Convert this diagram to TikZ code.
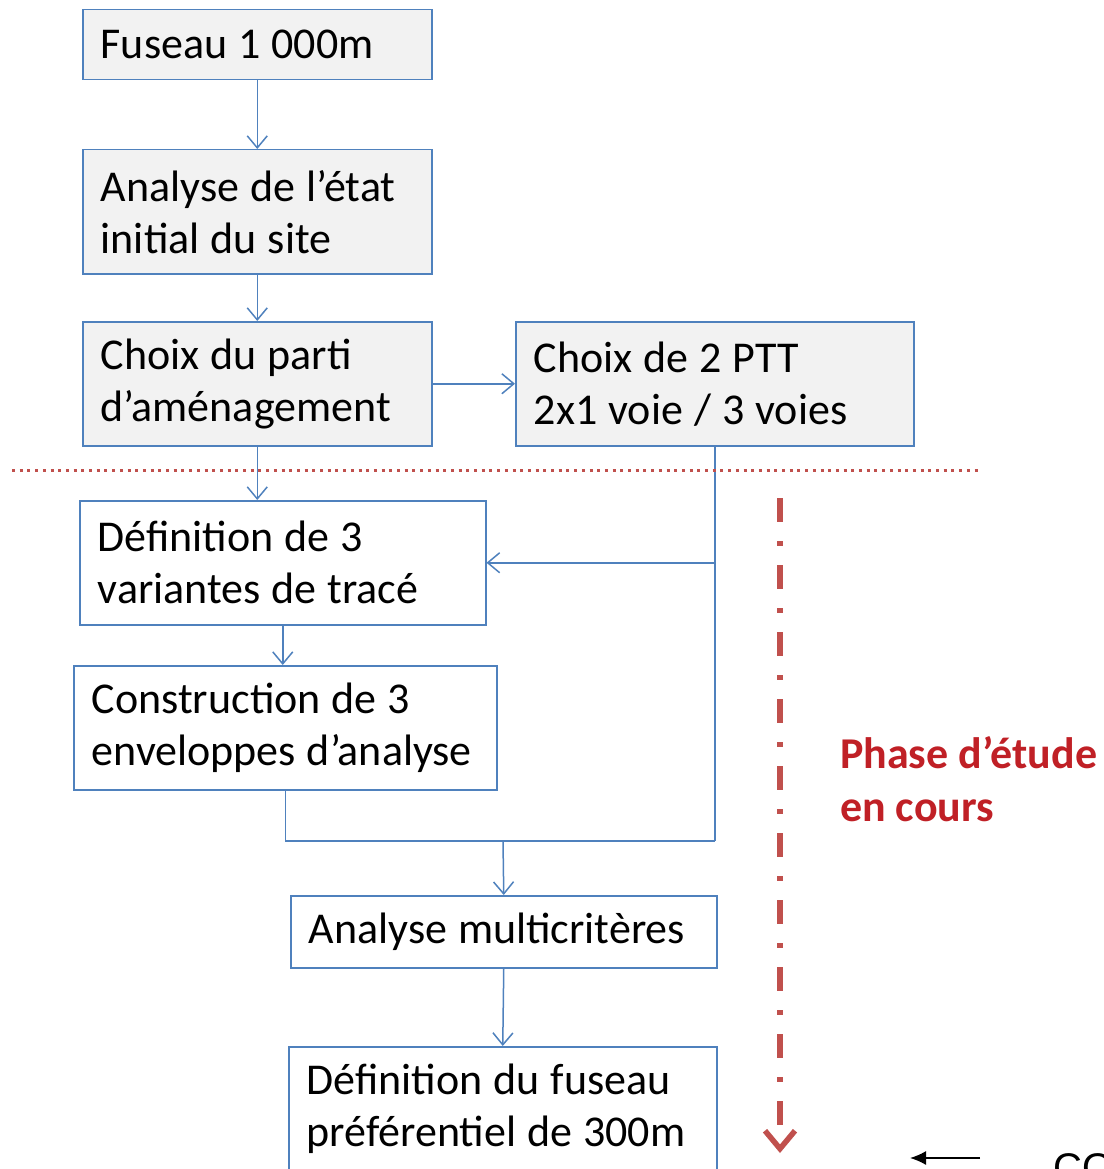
\documentclass[tikz,border=0pt]{standalone}
\usepackage{fontspec}
\setmainfont{Carlito}
\newfontfamily\arialfont{Liberation Sans}
\usetikzlibrary{arrows.meta}
\definecolor{traitbleu}{RGB}{79,129,189}
\definecolor{fondgris}{RGB}{242,242,242}
\definecolor{rougepointille}{RGB}{192,80,77}
\definecolor{rougetexte}{RGB}{192,32,38}

\begin{document}
\begin{tikzpicture}[x=1pt, y=-1pt,
    etape/.style={draw=traitbleu, line width=1.5pt, anchor=north west, align=left,
      inner xsep=18pt, inner ysep=0pt, font=\fontsize{44}{52}\selectfont,
      execute at begin node={\spaceskip=0.25em\relax}},
    lien/.style={draw=traitbleu, line width=1.5pt},
    fleche/.style={lien, -{Straight Barb[length=12pt, width=20pt, line width=1.5pt]}}]
  \useasboundingbox (0,0) rectangle (1103,1169);
  \clip (0,0) rectangle (1103,1169);

  \node[etape, fill=fondgris, text width=313, minimum height=70] (fuseau) at (82,9) {Fuseau 1 000m};
  \node[etape, fill=fondgris, text width=313, minimum height=124] (etat) at (82,149) {Analyse de l’état\\initial du site};
  \node[etape, fill=fondgris, text width=313, minimum height=124] (parti) at (82,321) {Choix du parti\\d’aménagement};
  \node[etape, fill=fondgris, text width=362, minimum height=124] (ptt) at (515,321) {Choix de 2 PTT\\2x1 voie / 3 voies};
  \node[etape, text width=370, minimum height=124] (variantes) at (79,500) {Définition de 3\\variantes de tracé};
  \node[etape, text width=387, minimum height=124] (enveloppes) at (73,665) {Construction de 3\\enveloppes d’analyse};
  \node[etape, text width=390, minimum height=72] (multi) at (290,895) {Analyse multicritères};
  \node[etape, text width=392, minimum height=124] (prefere) at (288,1046) {Définition du fuseau\\préférentiel de 300m};

  \coordinate (coude) at (503,841);
  \draw[fleche] (fuseau.south) -- (etat.north);
  \draw[fleche] (etat.south) -- (parti.north);
  \draw[fleche] (parti.east) -- (ptt.west);
  \draw[fleche] (parti.south) -- (parti.south |- variantes.north);
  \draw[fleche] (variantes.south) -- (variantes.south |- enveloppes.north);
  \draw[lien] (ptt.south) -- (ptt.south |- coude);
  \draw[fleche] (ptt.south |- variantes.east) -- (variantes.east);
  \draw[lien] (enveloppes.south) |- (ptt.south |- coude);
  \draw[fleche] (coude) -- (multi.north);
  \draw[fleche] (multi.south) -- (prefere.north);

  \coordinate (seuilG) at (12,470);
  \coordinate (seuilD) at (978,470);
  \draw[rougepointille, line width=3pt, dash pattern=on 3pt off 4.7pt] (seuilG) -- (seuilD);

  \coordinate (phaseH) at (780,498);
  \coordinate (phaseB) at (780,1153);
  \draw[rougepointille, line width=5.5pt, dash pattern=on 24pt off 19pt on 5pt off 19pt,
    -{Straight Barb[length=18pt, width=30pt, line width=5.5pt]}] (phaseH) -- (phaseB);
  \node[anchor=north west, align=left, text=rougetexte, inner sep=0pt,
    font=\fontsize{44}{53}\selectfont\bfseries] (phase) at (840,736) {Phase d’étude\\en cours};

  \node[anchor=base west, inner sep=0pt, font=\arialfont\fontsize{40}{48}\selectfont] (co) at (1053,1181) {CO};
  \coordinate (flecheD) at (980,1158);
  \coordinate (flecheG) at (910,1158);
  \draw[line width=1.6pt, -{Latex[length=16pt, width=14pt]}] (flecheD) -- (flecheG);
\end{tikzpicture}
\end{document}
